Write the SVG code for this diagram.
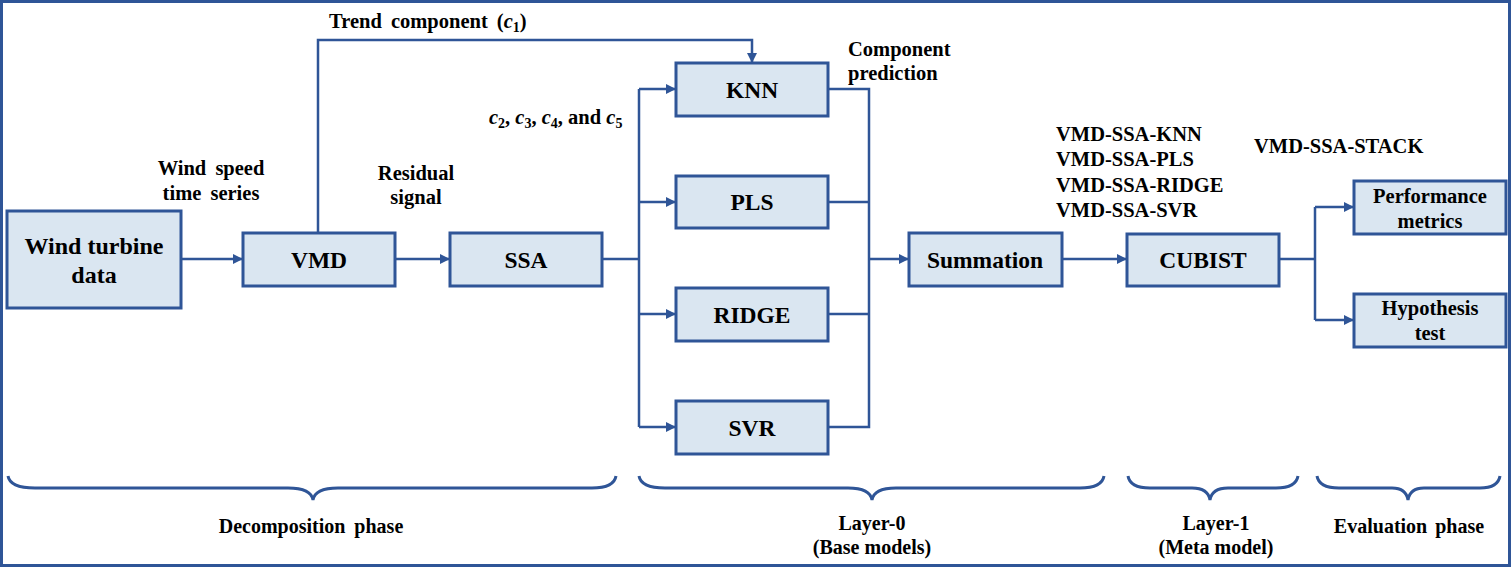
<svg xmlns="http://www.w3.org/2000/svg" width="1512" height="568" viewBox="0 0 1512 568">
<style>
.box{fill:#DAE6F1;stroke:#2F5597;stroke-width:3}
.ln{fill:none;stroke:#2F5597;stroke-width:2.5}
.br{fill:none;stroke:#2F5597;stroke-width:3}
.tx{font-family:'Liberation Serif','DejaVu Serif',serif;font-weight:bold;fill:#000}
.t{font-size:23.5px;text-anchor:middle}
.s{font-size:20.5px}
.c{font-size:20.5px;text-anchor:middle}
.p{font-size:20px;text-anchor:middle}
</style>
<defs>
<marker id="ah" viewBox="0 0 10 10" refX="10" refY="5" markerWidth="4" markerHeight="4" orient="auto" markerUnits="strokeWidth">
<path d="M0,0 L10,5 L0,10 Z" fill="#2F5597"/>
</marker>
</defs>
<rect x="1.5" y="1.5" width="1508" height="564" fill="#fff" stroke="#2F5597" stroke-width="3"/>
<g id="connectors">
<path class="ln" d="M181,259 H243" marker-end="url(#ah)"/>
<path class="ln" d="M395,259 H450" marker-end="url(#ah)"/>
<path class="ln" d="M318,233 V40 H752 V63" marker-end="url(#ah)"/>
<path class="ln" d="M602,259 H639"/>
<path class="ln" d="M639,89 V427"/>
<path class="ln" d="M639,89 H676" marker-end="url(#ah)"/>
<path class="ln" d="M639,202 H676" marker-end="url(#ah)"/>
<path class="ln" d="M639,314 H676" marker-end="url(#ah)"/>
<path class="ln" d="M639,427 H676" marker-end="url(#ah)"/>
<path class="ln" d="M828,89 H869 V427 H828"/>
<path class="ln" d="M828,202 H869"/>
<path class="ln" d="M828,314 H869"/>
<path class="ln" d="M869,259 H909" marker-end="url(#ah)"/>
<path class="ln" d="M1062,259 H1127" marker-end="url(#ah)"/>
<path class="ln" d="M1279,259 H1315"/>
<path class="ln" d="M1315,207 V320"/>
<path class="ln" d="M1315,207 H1354" marker-end="url(#ah)"/>
<path class="ln" d="M1315,320 H1354" marker-end="url(#ah)"/>
</g>
<g class="tx">
<g id="wind-turbine-data"><rect class="box" x="7" y="211" width="174" height="97"/><text x="94" y="254" font-size="24" text-anchor="middle">Wind turbine</text><text x="94" y="283" font-size="24" text-anchor="middle">data</text></g>
<g id="vmd"><rect class="box" x="243" y="233" width="152" height="53"/><text class="t" x="319" y="268">VMD</text></g>
<g id="ssa"><rect class="box" x="450" y="233" width="152" height="53"/><text class="t" x="526" y="268">SSA</text></g>
<g id="knn"><rect class="box" x="676" y="63" width="152" height="53"/><text class="t" x="752" y="98">KNN</text></g>
<g id="pls"><rect class="box" x="676" y="176" width="152" height="52"/><text class="t" x="752" y="210">PLS</text></g>
<g id="ridge"><rect class="box" x="676" y="288" width="152" height="53"/><text class="t" x="752" y="323">RIDGE</text></g>
<g id="svr"><rect class="box" x="676" y="401" width="152" height="53"/><text class="t" x="752" y="436">SVR</text></g>
<g id="summation"><rect class="box" x="909" y="233" width="153" height="53"/><text class="t" x="985" y="268">Summation</text></g>
<g id="cubist"><rect class="box" x="1127" y="234" width="152" height="52"/><text class="t" x="1203" y="268">CUBIST</text></g>
<g id="performance-metrics"><rect class="box" x="1354" y="181" width="152" height="53"/><text class="c" x="1430" y="203">Performance</text><text class="c" x="1430" y="228">metrics</text></g>
<g id="hypothesis-test"><rect class="box" x="1354" y="294" width="152" height="53"/><text class="c" x="1430" y="315">Hypothesis</text><text class="c" x="1430" y="340">test</text></g>
<g id="labels">
<text class="s" x="329" y="28" word-spacing="4">Trend component (<tspan font-style="italic">c</tspan><tspan font-size="14" dy="4">1</tspan><tspan dy="-4">)</tspan></text>
<text class="s" x="848" y="56">Component</text>
<text class="s" x="848" y="80">prediction</text>
<text class="s" x="489" y="124"><tspan font-style="italic">c</tspan><tspan font-size="14" dy="4">2</tspan><tspan dy="-4">, </tspan><tspan font-style="italic">c</tspan><tspan font-size="14" dy="4">3</tspan><tspan dy="-4">, </tspan><tspan font-style="italic">c</tspan><tspan font-size="14" dy="4">4</tspan><tspan dy="-4">, and </tspan><tspan font-style="italic">c</tspan><tspan font-size="14" dy="4">5</tspan></text>
<text class="c" x="211" y="175" word-spacing="4">Wind speed</text>
<text class="c" x="211" y="200" word-spacing="4">time series</text>
<text class="c" x="416" y="180">Residual</text>
<text class="c" x="416" y="204">signal</text>
<text class="s" x="1056" y="141">VMD-SSA-KNN</text>
<text class="s" x="1056" y="166">VMD-SSA-PLS</text>
<text class="s" x="1056" y="192">VMD-SSA-RIDGE</text>
<text class="s" x="1056" y="217">VMD-SSA-SVR</text>
<text class="s" x="1254" y="153">VMD-SSA-STACK</text>
</g>
<g id="phase-labels">
<text class="p" x="311" y="533" word-spacing="4">Decomposition phase</text>
<text class="p" x="872" y="530">Layer-0</text>
<text class="p" x="872" y="554">(Base models)</text>
<text class="p" x="1216" y="530">Layer-1</text>
<text class="p" x="1216" y="554">(Meta model)</text>
<text class="p" x="1409" y="533" word-spacing="3">Evaluation phase</text>
</g>
</g>
<g id="braces">
<path class="br" d="M8,476 Q10,488 35,488 L288,488 Q311,488 313,500 Q315,488 338,488 L592,488 Q614,488 616,476"/>
<path class="br" d="M639,476 Q641,488 665,488 L848,488 Q870,488 872,500 Q874,488 896,488 L1080,488 Q1102,488 1104,476"/>
<path class="br" d="M1128,476 Q1130,488 1150,488 L1192,488 Q1208,488 1210,500 Q1212,488 1228,488 L1276,488 Q1296,488 1298,476"/>
<path class="br" d="M1317,476 Q1319,488 1339,488 L1392,488 Q1406,488 1408,500 Q1410,488 1424,488 L1480,488 Q1498,488 1500,476"/>
</g>
</svg>
